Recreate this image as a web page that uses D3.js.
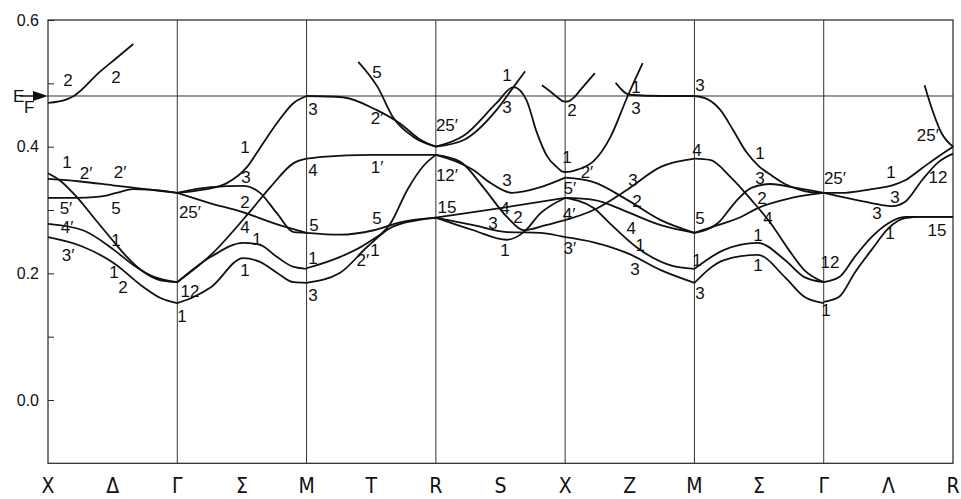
<!DOCTYPE html>
<html>
<head>
<meta charset="utf-8">
<script src="https://cdn.jsdelivr.net/npm/d3@7"></script>
<style>
  body { margin: 0; background: #fff; }
  text { fill: #111; }
</style>
</head>
<body>
<svg id="chart" width="961" height="499"></svg>
<script>

// symmetry points along the path, and the line names between them
const kLabels = ["X", "Δ", "Γ", "Σ", "M", "T", "R", "S", "X", "Z", "M", "Σ", "Γ", "Λ", "R"];

const yTicks = [0.0, 0.1, 0.2, 0.3, 0.4, 0.5, 0.6];
const yTickLabels = [0.0, 0.2, 0.4, 0.6];
const fermiEnergy = 0.48;

// bands per segment: [t inside segment (0..1), energy]
const bandsXG = [
    [[0, 0.469], [0.15, 0.475], [0.2, 0.480], [0.4, 0.518], [0.53, 0.540], [0.66, 0.562]],
    [[0, 0.358], [0.09, 0.347], [0.22, 0.321], [0.35, 0.289], [0.48, 0.257], [0.61, 0.226], [0.74, 0.202], [0.87, 0.189], [1, 0.186]],
    [[0, 0.349], [0.25, 0.345], [0.5, 0.339], [0.75, 0.333], [1, 0.327]],
    [[0, 0.319], [0.2, 0.319], [0.4, 0.321], [0.53, 0.327], [0.66, 0.333], [0.79, 0.332], [1, 0.327]],
    [[0, 0.278], [0.27, 0.268], [0.51, 0.237], [0.66, 0.213], [0.8, 0.196], [1, 0.186]],
    [[0, 0.257], [0.27, 0.242], [0.51, 0.216], [0.74, 0.178], [0.87, 0.161], [1, 0.153]]
];

const bandsGM = [
    [[0, 0.327], [0.2, 0.332], [0.38, 0.342], [0.54, 0.368], [0.64, 0.398], [0.77, 0.437], [0.9, 0.469], [1, 0.480]],
    [[0, 0.327], [0.26, 0.336], [0.51, 0.338], [0.64, 0.327], [0.77, 0.295], [0.9, 0.265], [1, 0.264]],
    [[0, 0.327], [0.25, 0.311], [0.5, 0.297], [0.75, 0.279], [1, 0.264]],
    [[0, 0.186], [0.26, 0.229], [0.56, 0.297], [0.72, 0.336], [0.9, 0.374], [1, 0.381]],
    [[0, 0.186], [0.26, 0.226], [0.51, 0.248], [0.64, 0.245], [0.77, 0.226], [0.9, 0.210], [1, 0.207]],
    [[0, 0.153], [0.13, 0.163], [0.26, 0.178], [0.51, 0.224], [0.64, 0.218], [0.77, 0.201], [0.9, 0.186], [1, 0.185]]
];

const bandsMR = [
    [[0, 0.480], [0.28, 0.478], [0.54, 0.458], [0.72, 0.437], [0.88, 0.411], [1, 0.400]],
    [[0.4, 0.534], [0.55, 0.494], [0.67, 0.446], [0.83, 0.415], [1, 0.400]],
    [[0, 0.381], [0.12, 0.384], [0.5, 0.387], [1, 0.387]],
    [[0, 0.264], [0.26, 0.261], [0.52, 0.268], [0.73, 0.281], [1, 0.288]],
    [[0, 0.208], [0.26, 0.226], [0.47, 0.248], [0.65, 0.279], [0.78, 0.332], [0.91, 0.371], [1, 0.387]],
    [[0, 0.185], [0.26, 0.201], [0.47, 0.242], [0.65, 0.272], [0.86, 0.284], [1, 0.288]]
];

const bandsRX = [
    [[0, 0.400], [0.22, 0.411], [0.47, 0.458], [0.6, 0.494], [0.69, 0.519]],
    [[0, 0.400], [0.22, 0.418], [0.47, 0.469], [0.6, 0.494], [0.7, 0.474], [0.78, 0.423], [0.86, 0.385], [0.94, 0.367], [0.98, 0.3605], [1, 0.360]],
    [[0.82, 0.497], [0.88, 0.488], [0.94, 0.478], [0.98, 0.472], [1, 0.471]],
    [[0, 0.387], [0.29, 0.363], [0.42, 0.343], [0.59, 0.327], [0.81, 0.336], [1, 0.351]],
    [[0, 0.387], [0.19, 0.376], [0.37, 0.335], [0.55, 0.289], [0.68, 0.268], [0.85, 0.276], [1, 0.284]],
    [[0, 0.288], [0.5, 0.303], [1, 0.319]],
    [[0, 0.288], [0.29, 0.268], [0.55, 0.253], [0.68, 0.265], [0.81, 0.295], [1, 0.319]],
    [[0, 0.288], [0.29, 0.276], [0.55, 0.265], [0.81, 0.264], [1, 0.257]]
];

const bandsXM = [
    [[0, 0.471], [0.03, 0.472], [0.07, 0.478], [0.12, 0.490], [0.23, 0.516]],
    [[0.39, 0.501], [0.5, 0.482], [0.75, 0.480], [1, 0.480]],
    [[0, 0.360], [0.04, 0.3605], [0.1, 0.364], [0.22, 0.377], [0.35, 0.415], [0.48, 0.478], [0.6, 0.532]],
    [[0, 0.351], [0.22, 0.344], [0.48, 0.316], [0.74, 0.284], [1, 0.264]],
    [[0, 0.319], [0.22, 0.316], [0.48, 0.297], [0.74, 0.276], [1, 0.264]],
    [[0, 0.319], [0.22, 0.303], [0.35, 0.278], [0.56, 0.240], [0.81, 0.213], [1, 0.207]],
    [[0, 0.284], [0.22, 0.300], [0.48, 0.332], [0.74, 0.368], [1, 0.381]],
    [[0, 0.257], [0.22, 0.249], [0.48, 0.232], [0.74, 0.205], [1, 0.185]]
];

const bandsMG = [
    [[0, 0.480], [0.1, 0.475], [0.2, 0.458], [0.3, 0.426], [0.4, 0.392], [0.5, 0.369], [0.6, 0.354], [0.7, 0.341], [0.8, 0.333], [0.9, 0.328], [1, 0.327]],
    [[0, 0.381], [0.12, 0.379], [0.28, 0.352], [0.44, 0.316], [0.59, 0.279], [0.73, 0.237], [0.85, 0.205], [1, 0.186]],
    [[0, 0.264], [0.18, 0.279], [0.31, 0.311], [0.44, 0.335], [0.59, 0.341], [0.75, 0.336], [1, 0.327]],
    [[0, 0.264], [0.18, 0.276], [0.36, 0.289], [0.49, 0.303], [0.75, 0.319], [1, 0.327]],
    [[0, 0.207], [0.23, 0.237], [0.49, 0.248], [0.7, 0.221], [0.85, 0.194], [1, 0.186]],
    [[0, 0.185], [0.23, 0.221], [0.49, 0.229], [0.7, 0.194], [0.85, 0.163], [1, 0.153]]
];

const bandsGR = [
    [[0, 0.327], [0.13, 0.327], [0.37, 0.333], [0.53, 0.339], [0.63, 0.347], [0.76, 0.366], [0.89, 0.385], [1, 0.400]],
    [[0, 0.327], [0.13, 0.321], [0.37, 0.311], [0.53, 0.306], [0.63, 0.313], [0.76, 0.347], [0.89, 0.376], [1, 0.389]],
    [[0, 0.186], [0.12, 0.194], [0.24, 0.226], [0.37, 0.257], [0.5, 0.279], [0.63, 0.289], [1, 0.289]],
    [[0, 0.155], [0.12, 0.163], [0.24, 0.201], [0.37, 0.237], [0.5, 0.271], [0.63, 0.287], [0.76, 0.289], [1, 0.289]],
    [[0.78, 0.497], [0.84, 0.458], [0.91, 0.422], [1, 0.400]]
];

// representation labels: [k along path, energy, text]
const bandLabels = [
    [0.155, 0.505, "2"], [0.526, 0.510, "2"], [0.147, 0.376, "1"], [0.294, 0.358, "2′"],
    [0.557, 0.360, "2′"], [0.139, 0.304, "5′"], [0.526, 0.303, "5"], [0.147, 0.274, "4′"],
    [0.155, 0.229, "3′"], [0.526, 0.253, "1"], [0.510, 0.202, "1"], [0.580, 0.178, "2"],
    [1.098, 0.297, "25′"], [1.098, 0.172, "12"], [1.036, 0.132, "1"],
    [1.524, 0.399, "1"], [1.531, 0.352, "3"], [1.524, 0.313, "2"], [1.524, 0.273, "4"],
    [1.617, 0.254, "1"], [1.524, 0.205, "1"],
    [2.050, 0.459, "3"], [2.050, 0.363, "4"], [2.057, 0.276, "5"], [2.050, 0.224, "1"], [2.050, 0.166, "3"],
    [2.545, 0.518, "5"], [2.545, 0.445, "2′"], [2.545, 0.368, "1′"], [2.545, 0.287, "5"],
    [2.436, 0.221, "2′"], [2.529, 0.237, "1"],
    [3.086, 0.434, "25′"], [3.086, 0.355, "12′"], [3.086, 0.305, "15"],
    [3.550, 0.513, "1"], [3.550, 0.463, "3"], [3.550, 0.347, "3"], [3.535, 0.303, "4"],
    [3.442, 0.279, "3"], [3.635, 0.289, "2"], [3.535, 0.237, "1"],
    [4.053, 0.458, "2"], [4.014, 0.384, "1"], [4.169, 0.360, "2′"], [4.037, 0.335, "5′"],
    [4.030, 0.294, "4′"], [4.037, 0.240, "3′"],
    [4.548, 0.494, "1"], [4.548, 0.461, "3"], [4.525, 0.347, "3"], [4.556, 0.314, "2"],
    [4.512, 0.272, "4"], [4.580, 0.245, "1"], [4.540, 0.207, "3"],
    [5.043, 0.497, "3"], [5.020, 0.395, "4"], [5.043, 0.287, "5"], [5.020, 0.221, "1"], [5.043, 0.169, "3"],
    [5.507, 0.390, "1"], [5.507, 0.351, "3"], [5.522, 0.319, "2"], [5.569, 0.287, "4"],
    [5.491, 0.261, "1"], [5.491, 0.213, "1"],
    [6.087, 0.351, "25′"], [6.048, 0.218, "12"], [6.018, 0.142, "1"],
    [6.520, 0.360, "1"], [6.551, 0.321, "3"], [6.412, 0.295, "3"], [6.512, 0.264, "1"],
    [6.876, 0.268, "15"], [6.884, 0.352, "12"], [6.806, 0.418, "25′"]
];

const segments = [bandsXG, bandsGM, bandsMR, bandsRX, bandsXM, bandsMG, bandsGR];

function makeChart(id) {
    let chart = d3.select("#" + id);

    let xScale = d3.scaleLinear().domain([0, 7]).range([48, 953]);
    let yScale = d3.scaleLinear().domain([-0.1, 0.6]).range([463.3, 20]);

    let lineColor = "#111";
    let font = "'Liberation Sans', Arial, sans-serif";

    // frame
    chart.append("rect")
        .attr("x", xScale(0))
        .attr("y", yScale(0.6))
        .attr("width", xScale(7) - xScale(0))
        .attr("height", yScale(-0.1) - yScale(0.6))
        .style("fill", "none")
        .style("stroke", "#222")
        .style("stroke-width", 1.2);

    // vertical lines at symmetry points
    chart.selectAll(".kline")
        .data(d3.range(1, 7)).enter().append("line").attr("class", "kline")
        .attr("x1", d => xScale(d)).attr("x2", d => xScale(d))
        .attr("y1", yScale(0.6)).attr("y2", yScale(-0.1))
        .style("stroke", "#333")
        .style("stroke-width", 1);

    // Fermi level
    chart.append("line")
        .attr("x1", xScale(0)).attr("x2", xScale(7))
        .attr("y1", yScale(fermiEnergy)).attr("y2", yScale(fermiEnergy))
        .style("stroke", "#333")
        .style("stroke-width", 1);

    let yF = yScale(fermiEnergy);
    let x0 = xScale(0);
    chart.append("line")
        .attr("x1", x0 - 28).attr("x2", x0 - 12)
        .attr("y1", yF).attr("y2", yF)
        .style("stroke", "#111").style("stroke-width", 1.5);
    chart.append("path")
        .attr("d", `M${x0},${yF} L${x0 - 15},${yF - 5} L${x0 - 15},${yF + 5} Z`)
        .style("fill", "#111");
    chart.append("text")
        .attr("x", x0 - 35).attr("y", yF + 6)
        .style("font-family", font).style("font-size", "17px")
        .text("E");
    chart.append("text")
        .attr("x", x0 - 24).attr("y", yF + 17)
        .style("font-family", font).style("font-size", "17px")
        .text("F");

    // y axis, ticks pointing inward
    let yAxis = d3.axisLeft(yScale)
        .tickValues(yTicks)
        .tickSizeInner(-6)
        .tickSizeOuter(0)
        .tickPadding(9)
        .tickFormat(d => yTickLabels.some(v => Math.abs(v - d) < 1e-9) ? d3.format(".1f")(d) : "");

    let axisG = chart.append("g")
        .attr("transform", `translate(${x0},0)`)
        .call(yAxis);
    axisG.select(".domain").remove();
    axisG.selectAll("line").style("stroke", "#222");
    axisG.selectAll("text")
        .style("font-family", font)
        .style("font-size", "16px")
        .style("fill", "#111");

    // k labels along the bottom
    chart.selectAll(".klabel")
        .data(kLabels).enter().append("text").attr("class", "klabel")
        .attr("x", (d, i) => xScale(i * 0.5))
        .attr("y", 493)
        .attr("text-anchor", "middle")
        .style("font-family", "'DejaVu Sans Condensed', 'DejaVu Sans', sans-serif")
        .style("font-size", "21px")
        .text(d => d);

    // bands
    let line = d3.line()
        .x(d => xScale(d[0]))
        .y(d => yScale(d[1]))
        .curve(d3.curveMonotoneX);

    segments.forEach((bands, i) => {
        chart.selectAll(".band" + i)
            .data(bands).enter().append("path").attr("class", "band band" + i)
            .attr("d", b => line(b.map(p => [i + p[0], p[1]])))
            .style("fill", "none")
            .style("stroke", lineColor)
            .style("stroke-width", 1.8);
    });

    // labels
    chart.selectAll(".blabel")
        .data(bandLabels).enter().append("text").attr("class", "blabel")
        .attr("x", d => xScale(d[0]))
        .attr("y", d => yScale(d[1]))
        .attr("dy", "0.36em")
        .attr("text-anchor", "middle")
        .style("font-family", font)
        .style("font-size", "17px")
        .text(d => d[2]);
}

makeChart("chart");
</script>
</body>
</html>
